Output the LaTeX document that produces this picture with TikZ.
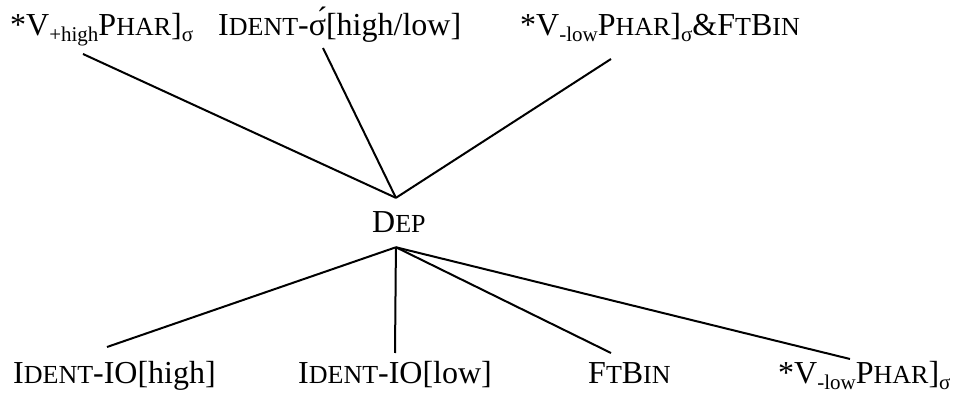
\documentclass[tikz,border=0pt]{standalone}
\usepackage{fontspec}
\setmainfont{Liberation Serif}
\usepackage{tikz}
% fake small caps and lowered indices
\newcommand{\fsc}[1]{{\fontsize{26}{31}\selectfont #1}}
\newcommand{\lo}[1]{\raisebox{-6pt}{\fontsize{21}{25}\selectfont #1}}

\begin{document}
\begin{tikzpicture}[x=1pt,y=-1pt,thin]
                \tikzset{lbl/.style={inner sep=0pt, anchor=base west, font=\fontsize{32}{38}\selectfont},
                         tie/.style={line width=2pt}}
                \useasboundingbox (0,0) rectangle (956,395);
                \node[lbl] (vhigh) at (10,36) {*V\lo{+high}P\fsc{HAR}]\lo{σ}};
                \node[lbl] (identsig) at (218,36) {I\fsc{DENT}-σ́[high/low]};
                \node[lbl] (vlowft) at (520,36) {*V\lo{-low}P\fsc{HAR}]\lo{σ}\&F\fsc{T}B\fsc{IN}};
                \node[lbl, inner ysep=14pt] (dep) at (372,233) {D\fsc{EP}};
                \node[lbl] (identhigh) at (13,383) {I\fsc{DENT}-IO[high]};
                \node[lbl] (identlow) at (298,383) {I\fsc{DENT}-IO[low]};
                \node[lbl] (ftbin) at (588,383) {F\fsc{T}B\fsc{IN}};
                \node[lbl] (vlow) at (778,383) {*V\lo{-low}P\fsc{HAR}]\lo{σ}};
                \draw[tie] ([xshift=73pt,yshift=-18pt]vhigh.base west) -- ([xshift=-3pt]dep.north);
                \draw[tie] ([xshift=105pt,yshift=-12pt]identsig.base west) -- ([xshift=-3pt]dep.north);
                \draw[tie] ([xshift=91pt,yshift=-23pt]vlowft.base west) -- ([xshift=-3pt]dep.north);
                \draw[tie] ([xshift=-3pt]dep.south) -- ([xshift=94pt,yshift=36pt]identhigh.base west);
                \draw[tie] ([xshift=-3pt]dep.south) -- ([xshift=97pt,yshift=30pt]identlow.base west);
                \draw[tie] ([xshift=-3pt]dep.south) -- ([xshift=23pt,yshift=30pt]ftbin.base west);
                \draw[tie] ([xshift=-3pt]dep.south) -- ([xshift=72pt,yshift=24pt]vlow.base west);
            \end{tikzpicture}
\end{document}
